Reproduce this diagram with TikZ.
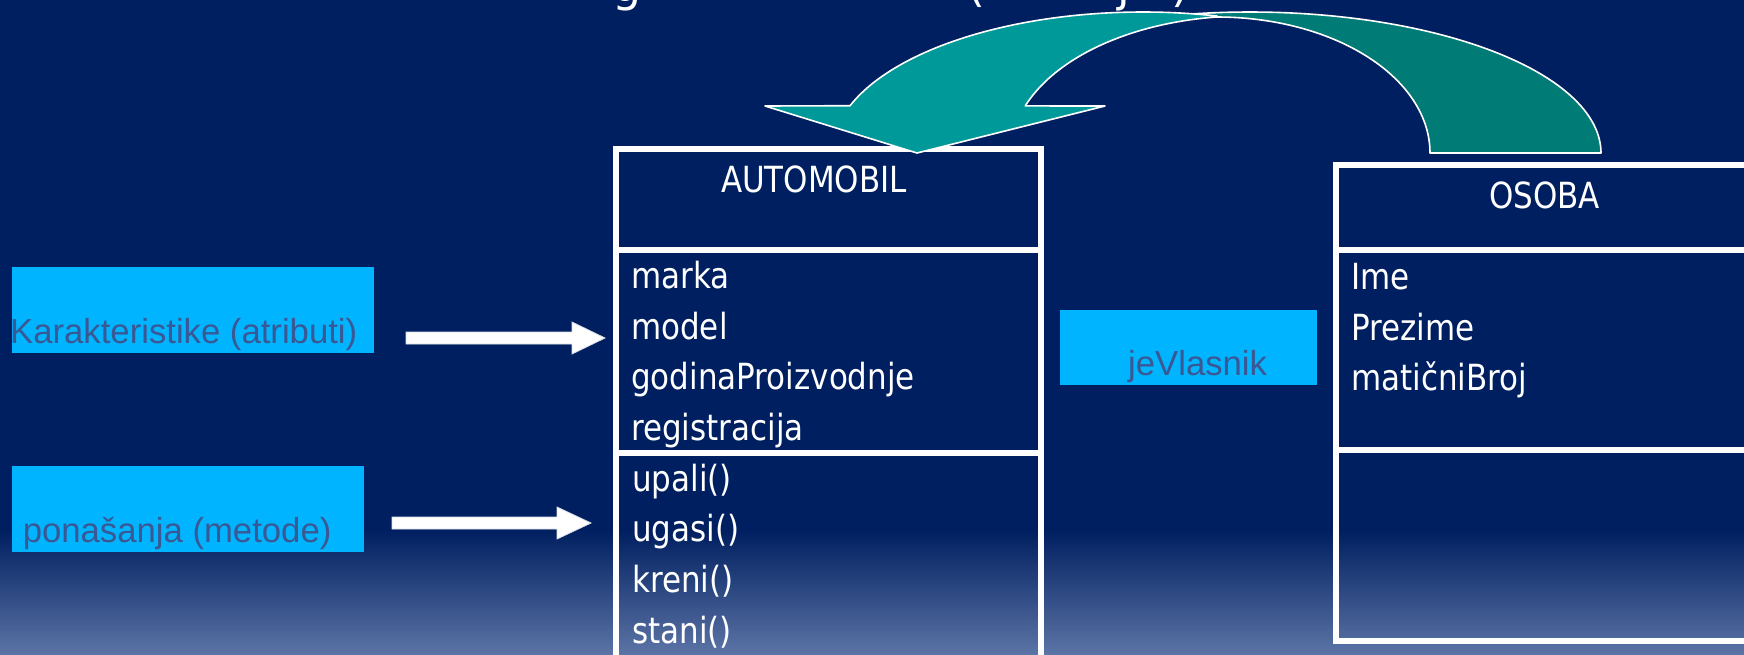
\documentclass[tikz,border=0pt]{standalone}
\usepackage{fontspec}
\setmainfont{Liberation Sans}
\newfontfamily\boxfont[FakeStretch=0.86]{DejaVu Sans}
\newfontfamily\titlefont{DejaVu Sans}
\usetikzlibrary{calc}
\definecolor{navy}{RGB}{0,31,96}
\definecolor{navylight}{RGB}{92,116,166}
\definecolor{tealA}{RGB}{0,153,153}
\definecolor{tealB}{RGB}{0,123,118}
\definecolor{cyanbox}{RGB}{0,180,255}
\definecolor{labeltext}{RGB}{58,88,148}
\begin{document}
\begin{tikzpicture}[x=1pt,y=-1pt,
  classbox/.style={draw=white,line width=6pt,inner sep=0pt},
  sepline/.style={draw=white,line width=6pt},
  boxtext/.style={text=white,font=\boxfont\fontsize{36}{40}\selectfont,inner sep=0pt,anchor=base west},
  boxtitle/.style={text=white,font=\boxfont\fontsize{36}{40}\selectfont,inner sep=0pt,anchor=base},
  labelbox/.style={fill=cyanbox,inner sep=0pt,anchor=north west},
  labeltxt/.style={text=labeltext,font=\fontsize{34.7}{40}\selectfont,inner sep=0pt,anchor=base west},
  blockarrow/.style={fill=white,draw=white!85!navy,line width=0.8pt},
  lobe/.style={draw=white,line width=1.6pt,line join=round},
  titlefrag/.style={text=white,font=\titlefont\fontsize{46}{50}\selectfont,inner sep=0pt,anchor=base},
]
\useasboundingbox (0,0) rectangle (1744,654);
\clip (0,0) rectangle (1744,654);
% background
\fill[navy] (0,0) rectangle (1744,654);
\shade[top color=navy,bottom color=navylight] (0,530) rectangle (1744,654.5);

% title fragments (cut off at the top, as in the reference)
\node[titlefrag] (tg) at (627,1) {g};
\node[titlefrag] (tlp) at (976,1) {(};
\node[titlefrag] (tj) at (1124,1) {j};
\node[titlefrag] (trp) at (1180,1) {)};

% AUTOMOBIL class
\node[classbox,minimum width=425,minimum height=521] (auto) at (828.5,409.5) {};
\draw[sepline] (616,250) -- (1041,250);
\draw[sepline] (616,453) -- (1041,453);
\node[boxtitle] (autoname) at (814,192) {AUTOMOBIL};
\node[boxtext] (a1) at (631,288) {marka};
\node[boxtext] (a2) at (631,339) {model};
\node[boxtext] (a3) at (631,389.5) {godinaProizvodnje};
\node[boxtext] (a4) at (631,440) {registracija};
\node[boxtext] (m1) at (632,491) {upali()};
\node[boxtext] (m2) at (632,541.5) {ugasi()};
\node[boxtext] (m3) at (632,592) {kreni()};
\node[boxtext] (m4) at (632,643) {stani()};

% OSOBA class
\node[classbox,minimum width=417,minimum height=476.5] (osoba) at (1544.5,402.75) {};
\draw[sepline] (1336,250) -- (1753,250);
\draw[sepline] (1336,449.5) -- (1753,449.5);
\node[boxtitle] (osobaname) at (1544.5,208) {OSOBA};
\node[boxtext] (o1) at (1351,289) {Ime};
\node[boxtext] (o2) at (1351,340) {Prezime};
\node[boxtext] (o3) at (1351,390) {mati\v{c}niBroj};

% labels
\node[labelbox,minimum width=362,minimum height=86] (kar) at (12,267) {};
\node[labeltxt] (kartxt) at (10,343) {Karakteristike (atributi)};
\node[labelbox,minimum width=352,minimum height=86] (pon) at (12,466) {};
\node[labeltxt] (pontxt) at (22.6,542) {ponašanja (metode)};
\node[labelbox,minimum width=257,minimum height=75] (vl) at (1060,310) {};
\node[labeltxt] (vltxt) at (1128,375) {jeVlasnik};

% block arrows
\coordinate (a1s) at (406,338);
\coordinate (a1e) at (605,338);
\coordinate (a2s) at (392,523);
\coordinate (a2e) at (591,523);
\filldraw[blockarrow] ($(a1s)+(0,-6)$) -- ($(a1e)+(-33,-6)$) -- ($(a1e)+(-33,-16)$) -- (a1e)
  -- ($(a1e)+(-33,16)$) -- ($(a1e)+(-33,6)$) -- ($(a1s)+(0,6)$) -- cycle;
\filldraw[blockarrow] ($(a2s)+(0,-6)$) -- ($(a2e)+(-34,-6)$) -- ($(a2e)+(-34,-16)$) -- (a2e)
  -- ($(a2e)+(-34,16)$) -- ($(a2e)+(-34,6)$) -- ($(a2s)+(0,6)$) -- cycle;

% curved arrow from OSOBA to AUTOMOBIL
\filldraw[lobe,fill=tealB]
  plot[domain=0:102.7,samples=70] ({1250+351*cos(\x)},{153-141*sin(\x)})
  -- (1217,17)
  -- plot[domain=90:0,samples=60] ({1217+213*cos(\x)},{153-136*sin(\x)})
  -- cycle;
\filldraw[lobe,fill=tealA] (765,106)
  -- plot[domain=160.4:76.2,samples=80] ({1143+311*cos(\x)},{153-141*sin(\x)})
  -- plot[domain=96.9:159.9,samples=60] ({1245+234*cos(\x)},{153-137*sin(\x)})
  -- (1105,106) -- (917,153) -- cycle;
\end{tikzpicture}
\end{document}
